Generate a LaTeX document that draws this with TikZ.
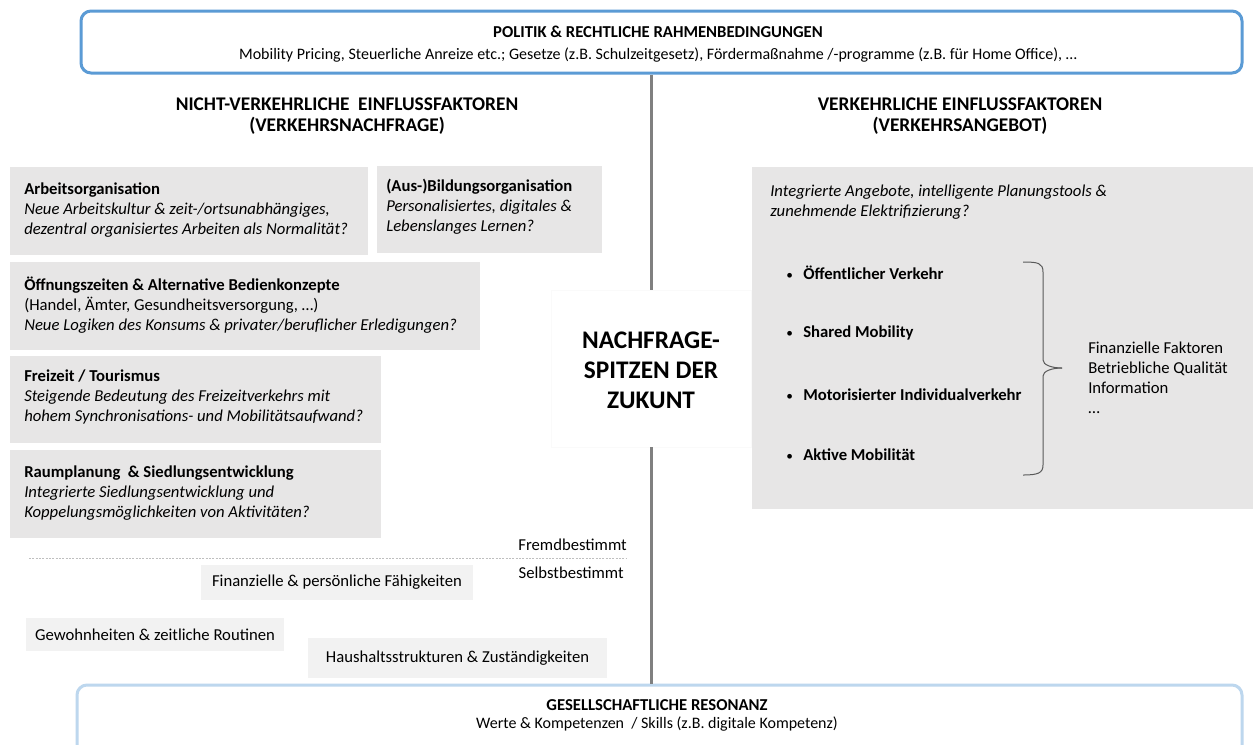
\documentclass[tikz,border=0pt]{standalone}
\usepackage{fontspec}
\setmainfont{Carlito}
\usetikzlibrary{fit}
\definecolor{topblue}{HTML}{5B9BD5}
\definecolor{botblue}{HTML}{BDD7EE}
\definecolor{boxgray}{HTML}{E7E6E6}
\definecolor{paleGray}{HTML}{F2F2F2}
\definecolor{lineGray}{HTML}{808080}
\definecolor{braceGray}{HTML}{595959}
\begin{document}
\begin{tikzpicture}[x=0.75pt,y=-0.75pt,
  font=\fontsize{12.5}{15}\selectfont,
  frame/.style={rounded corners=7.5pt, line width=2.25pt, fill=white, inner sep=0pt},
  gbox/.style={fill=boxgray, inner sep=0pt},
  lbox/.style={fill=paleGray, inner sep=0pt},
  txt/.style={anchor=west, align=left, inner sep=0pt},
  head/.style={font=\fontsize{14.5}{15.75}\selectfont\bfseries, align=center, inner sep=0pt},
  vline/.style={draw=lineGray, line width=2.25pt},
  sub/.style={font=\fontsize{12}{15}\selectfont, inner sep=0pt},
  ttl/.style={font=\fontsize{12.5}{15}\selectfont\bfseries, inner sep=0pt},
]
\newcommand{\mybul}{\makebox[12.75pt][l]{\fontsize{10}{10}\selectfont•}}
\useasboundingbox (0,0) rectangle (1253,744);
\fill[white] (0,0) rectangle (1253,744);

% top frame
\node[frame, draw=topblue, fit={(81,11) (1242,73)}] (politik) {};
\node[ttl] (politikT) at (658,32) {POLITIK \& RECHTLICHE RAHMENBEDINGUNGEN};
\node[sub] (politikS) at (658,55) {Mobility Pricing, Steuerliche Anreize etc.; Gesetze (z.B. Schulzeitgesetz), Fördermaßnahme /-programme (z.B. für Home Office), …};

% bottom frame
\node[frame, draw=botblue, fit={(77,685) (1242,775)}] (society) {};
\node[ttl] (societyT) at (657,705) {GESELLSCHAFTLICHE RESONANZ};
\node[sub] (societyS) at (657,724) {Werte \& Kompetenzen\ \ / Skills (z.B. digitale Kompetenz)};

% centre
\node[fit={(551,290) (751,447)}, inner sep=0pt, fill=white, draw=black!2] (peak) {};
\node[font=\fontsize{19}{22.5}\selectfont\bfseries, align=center, inner sep=0pt] (peakT) at (651,370) {NACHFRAGE-\\SPITZEN DER\\ZUKUNT};
\draw[vline] (politik.south -| peak.north) -- (peak.north);
\draw[vline] (peak.south) -- (peak.south |- society.north);

% headings
\node[head] (headL) at (347,116.5) {NICHT-VERKEHRLICHE\ \ EINFLUSSFAKTOREN\\(VERKEHRSNACHFRAGE)};
\node[head] (headR) at (960,116.5) {VERKEHRLICHE EINFLUSSFAKTOREN\\(VERKEHRSANGEBOT)};

% left boxes
\node[gbox, fit={(10,167) (368,255)}] (arbeit) {};
\node[txt] (arbeitT) at (24,210) {\textbf{Arbeitsorganisation}\\\textit{Neue Arbeitskultur \& zeit-/ortsunabhängiges,}\\\textit{dezentral organisiertes Arbeiten als Normalität?}};
\node[gbox, fit={(377,166) (602,253)}] (bildung) {};
\node[txt] (bildungT) at (386,207) {\textbf{(Aus-)Bildungsorganisation}\\\textit{Personalisiertes, digitales \&}\\\textit{Lebenslanges Lernen?}};
\node[gbox, fit={(10,262) (480,350)}] (oeffnung) {};
\node[txt] (oeffnungT) at (24,305) {\textbf{Öffnungszeiten \& Alternative Bedienkonzepte}\\(Handel, Ämter, Gesundheitsversorgung, …)\\\textit{Neue Logiken des Konsums \& privater/beruflicher Erledigungen?}};
\node[gbox, fit={(10,356) (381,443)}] (freizeit) {};
\node[txt] (freizeitT) at (24,397) {\textbf{Freizeit / Tourismus}\\\textit{Steigende Bedeutung des Freizeitverkehrs mit}\\\textit{hohem Synchronisations- und Mobilitätsaufwand?}};
\node[gbox, fit={(10,450) (381,538)}] (raum) {};
\node[txt] (raumT) at (24,493) {\textbf{Raumplanung\ \ \& Siedlungsentwicklung}\\\textit{Integrierte Siedlungsentwicklung und}\\\textit{Koppelungsmöglichkeiten von Aktivitäten?}};

% fremd / selbst
\node[anchor=east, inner sep=0pt] (fremd) at (627,545) {Fremdbestimmt};
\node[anchor=east, inner sep=0pt] (selbst) at (624,573) {Selbstbestimmt};
\draw[black!25, dash pattern=on 1.5pt off 1pt, line width=0.6pt] (29,558) -- (627,558);

% small boxes
\node[lbox, fit={(201,565) (473,600)}] (faehig) {};
\node[inner sep=0pt] (faehigT) at (faehig.center) {Finanzielle \& persönliche Fähigkeiten};
\node[lbox, fit={(26,618) (284,651)}] (gewohn) {};
\node[inner sep=0pt] (gewohnT) at (gewohn.center) {Gewohnheiten \& zeitliche Routinen};
\node[lbox, fit={(308,638) (607,678)}] (haus) {};
\node[inner sep=0pt] (hausT) at (haus.center) {Haushaltsstrukturen \& Zuständigkeiten};

% right box
\node[gbox, fit={(752,167) (1253,509)}] (angebot) {};
\node[txt] (angebotT) at (770,202.5) {\textit{Integrierte Angebote, intelligente Planungstools \&}\\\textit{zunehmende Elektrifizierung?}};
\node[txt] (oev) at (786,273) {\mybul\textbf{Öffentlicher Verkehr}};
\node[txt] (shared) at (786,333) {\mybul\textbf{Shared Mobility}};
\node[txt] (miv) at (786,395) {\mybul\textbf{Motorisierter Individualverkehr}};
\node[txt] (aktiv) at (786,455) {\mybul\textbf{Aktive Mobilität}};
\draw[braceGray, line width=0.75pt] (1023,262) .. controls (1038,262) and (1043,263) .. (1043,272) -- (1043,360) .. controls (1043,365) and (1052,368) .. (1062,368);
\draw[braceGray, line width=0.75pt] (1062,368) .. controls (1052,368) and (1043,371) .. (1043,376) -- (1043,465) .. controls (1043,473) and (1038,475) .. (1023,475);
\node[txt] (faktoren) at (1088,377.5) {Finanzielle Faktoren\\Betriebliche Qualität\\Information\\…};
\end{tikzpicture}
\end{document}
